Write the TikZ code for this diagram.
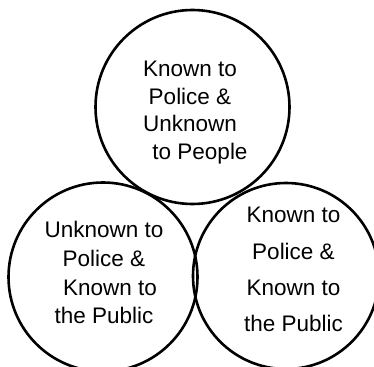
\documentclass[tikz,border=0pt]{standalone}
\usepackage{fontspec}
\setmainfont{Liberation Sans}
\usepackage{tikz}

\begin{document}
\begin{tikzpicture}[x=1pt,y=-1pt,
  vc/.style={circle,draw,line width=2.6pt,inner sep=0pt},
  lbl/.style={align=center,inner sep=0pt,anchor=north}]
  \useasboundingbox (0,0) rectangle (374,366);
  \clip (0,0) rectangle (374,366);

  \node[vc,minimum size=194pt] (unpeople) at (192.5,107) {};
  \node[vc,minimum size=189pt] (unpolice) at (103,277) {};
  \node[vc,minimum size=186pt] (known) at (286,276) {};

  \node[lbl,font=\fontsize{22.5}{27.5}\selectfont] (unpeoplet) at (190,61.3) {Known to\\Police \&\\Unknown\\\hspace*{20pt}to People};
  \node[lbl,font=\fontsize{22.5}{28.7}\selectfont] (unpolicet) at (104,221.3) {Unknown to\\Police \&\\\hspace*{12pt}Known to\\the Public};
  \node[lbl,font=\fontsize{22.5}{36.3}\selectfont] (knownt) at (293.5,207.3) {Known to\\Police \&\\Known to\\the Public};
\end{tikzpicture}
\end{document}
